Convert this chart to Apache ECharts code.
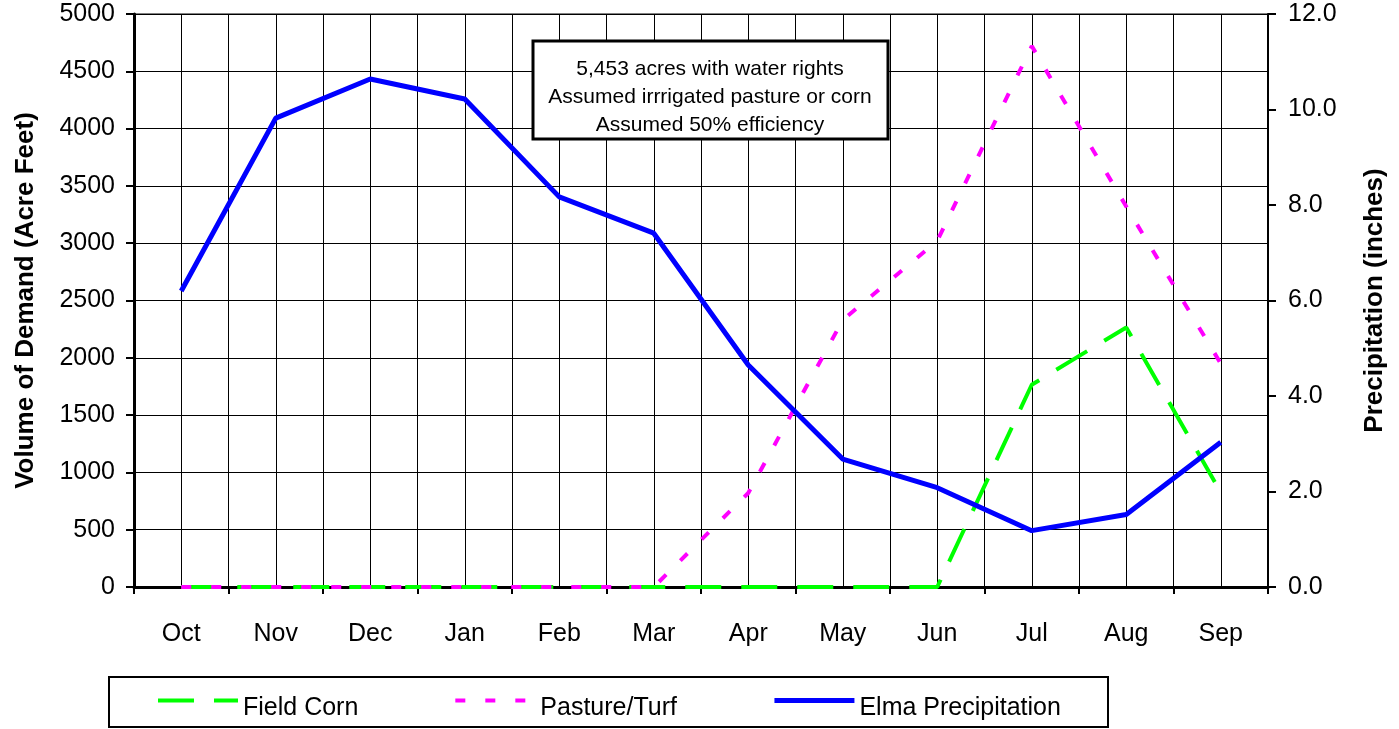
<!DOCTYPE html>
<html>
<head>
<meta charset="utf-8">
<script src="https://cdn.jsdelivr.net/npm/echarts@6/dist/echarts.min.js"></script>
<style>
html,body{margin:0;padding:0;background:#fff;}
#chart{width:1399px;height:729px;}
</style>
</head>
<body>
<div id="chart"></div>
<script>
var months = ['Oct','Nov','Dec','Jan','Feb','Mar','Apr','May','Jun','Jul','Aug','Sep'];
var fieldCorn = [0,0,0,0,0,0,0,0,0,1765,2265,825];
var pasture = [0,0,0,0,0,0,820,2330,3020,4720,3320,1950];
var precip = [6.2,9.82,10.64,10.22,8.17,7.41,4.65,2.68,2.08,1.18,1.52,3.03];
var noteLines = ['5,453 acres with water rights','Assumed irrrigated pasture or corn','Assumed 50% efficiency'];

var FONT = '"Liberation Sans", Arial, sans-serif';
var chart = echarts.init(document.getElementById('chart'), null, {renderer:'canvas'});

var cornStyle = {color:'#00ff00', width:4, type:[36,20]};
var pastureStyle = {color:'#ff00ff', width:4, type:[10,20]};
var precipStyle = {color:'#0000ff', width:5, type:'solid'};

chart.setOption({
  animation:false,
  backgroundColor:'#ffffff',
  textStyle:{fontFamily:FONT},
  grid:{left:134,right:131,top:14,bottom:142,show:true,borderColor:'#808080',borderWidth:2,backgroundColor:'transparent'},
  legend:{
    orient:'horizontal',
    left:156, top:695,
    padding:0,
    itemGap:95,
    itemWidth:80, itemHeight:14,
    formatter:'{t|{name}}',
    textStyle:{fontFamily:FONT,fontSize:25,color:'#000',
      rich:{t:{fontFamily:FONT,fontSize:25,color:'#000',padding:[16,0,0,0]}}},
    lineStyle:{width:'inherit'},
    itemStyle:{opacity:0},
    data:['Field Corn','Pasture/Turf','Elma Precipitation']
  },
  xAxis:[
    {
      type:'category', data:months, boundaryGap:true,
      axisLine:{lineStyle:{color:'#000',width:3}},
      axisTick:{show:true,length:7,lineStyle:{color:'#000',width:2}},
      axisLabel:{color:'#000',fontSize:25,fontFamily:FONT,margin:35},
      splitLine:{show:false}
    },
    {
      type:'value', min:0, max:24, interval:1, position:'top',
      axisLine:{show:false}, axisTick:{show:false}, axisLabel:{show:false},
      splitLine:{show:true,lineStyle:{color:'#000',width:1}}
    }
  ],
  yAxis:[
    {
      type:'value', min:0, max:5000, interval:500,
      name:'Volume of Demand (Acre Feet)', nameLocation:'middle', nameGap:95,
      nameTextStyle:{fontFamily:FONT,fontSize:26,fontWeight:'bold',color:'#000'},
      axisLine:{show:true,lineStyle:{color:'#000',width:3}},
      axisTick:{show:true,length:8,lineStyle:{color:'#000',width:2}},
      axisLabel:{color:'#000',fontSize:25,fontFamily:FONT,margin:19,formatter:function(v){return String(v);}},
      splitLine:{show:true,lineStyle:{color:'#000',width:1}}
    },
    {
      type:'value', min:0, max:12, interval:2, position:'right',
      name:'Precipitation (inches)', nameLocation:'middle', nameGap:94,
      nameTextStyle:{fontFamily:FONT,fontSize:26,fontWeight:'bold',color:'#000'},
      axisLine:{show:true,lineStyle:{color:'#000',width:2}},
      axisTick:{show:true,length:8,lineStyle:{color:'#000',width:2}},
      axisLabel:{color:'#000',fontSize:25,fontFamily:FONT,margin:20,formatter:function(v){return v.toFixed(1);}},
      splitLine:{show:false}
    }
  ],
  series:[
    {name:'Field Corn', type:'line', data:fieldCorn, xAxisIndex:0, yAxisIndex:0, symbol:'none', showSymbol:false, lineStyle:cornStyle, itemStyle:{color:'#00ff00'}, z:3},
    {name:'Pasture/Turf', type:'line', data:pasture, xAxisIndex:0, yAxisIndex:0, symbol:'none', showSymbol:false, lineStyle:pastureStyle, itemStyle:{color:'#ff00ff'}, z:4},
    {name:'Elma Precipitation', type:'line', data:precip, xAxisIndex:0, yAxisIndex:1, symbol:'none', showSymbol:false, lineStyle:precipStyle, itemStyle:{color:'#0000ff'}, z:5}
  ],
  graphic:[
    {type:'rect', x:533, y:41, z:100, shape:{x:0,y:0,width:355,height:98},
     style:{fill:'#fff',stroke:'#000',lineWidth:3}},
    {type:'text', x:710, y:55, z:101,
     style:{text:noteLines.join('\n'), font:'21px "Liberation Sans", Arial, sans-serif', lineHeight:28, fill:'#000', align:'center', verticalAlign:'top'}},
    {type:'rect', x:109, y:677, z:1, shape:{x:0,y:0,width:999,height:50},
     style:{fill:'none',stroke:'#000',lineWidth:2}}
  ]
});
</script>
</body>
</html>
